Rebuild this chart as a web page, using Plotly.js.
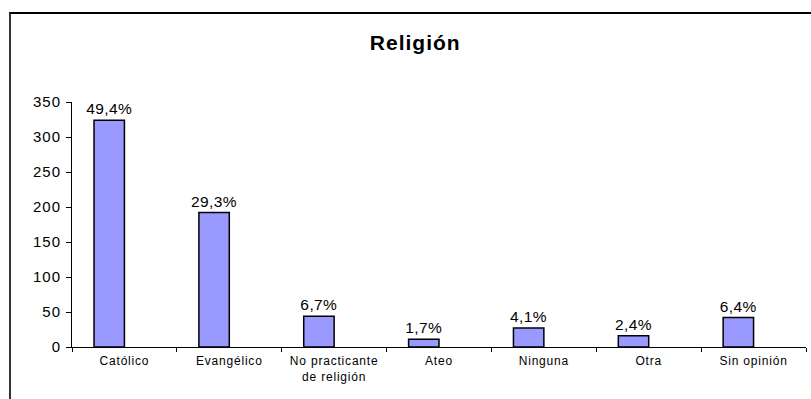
<!DOCTYPE html>
<html>
<head>
<meta charset="utf-8">
<script src="https://cdn.plot.ly/plotly-3.0.1.min.js"></script>
<style>
  html, body { margin: 0; padding: 0; background: #fff; overflow: hidden; }
  #wrap { position: relative; width: 811px; height: 399px; overflow: hidden; }
  #chart { position: absolute; left: 0; top: 0; width: 811px; height: 399px; }
  #frame { position: absolute; left: 9px; top: 12px; width: 900px; height: 500px;
           border-left: 2px solid #333; border-top: 2px solid #000; pointer-events: none; }
  #chart .ytick text { letter-spacing: 1px; }
  #chart .xtick text { letter-spacing: 0.8px; }
  #chart .gtitle { letter-spacing: 1px; }
  #chart .bartext { letter-spacing: 0.4px; }
</style>
</head>
<body>
<div id="wrap">
  <div id="chart"></div>
  <div id="frame"></div>
</div>
<script>
const categories = ["Católico", "Evangélico", "No practicante<br>de religión", "Ateo", "Ninguna", "Otra", "Sin opinión"];
const counts = [324, 192, 44, 11, 27, 16, 42];
const percentLabels = ["49,4%", "29,3%", "6,7%", "1,7%", "4,1%", "2,4%", "6,4%"];
const yTicks = [0, 50, 100, 150, 200, 250, 300, 350];

const FONT = "Liberation Sans, Arial, Helvetica, sans-serif";
const barW = 0.29;

const trace = {
  type: "bar",
  x: categories,
  y: counts,
  text: percentLabels,
  textposition: "outside",
  constraintext: "none",
  cliponaxis: false,
  textfont: { family: FONT, size: 15.5, color: "#000" },
  width: barW,
  offset: -barW,
  marker: { color: "#9999FF", line: { color: "#000", width: 1.5 } },
  hoverinfo: "none"
};

const layout = {
  width: 811,
  height: 399,
  margin: { l: 72, r: 5, t: 102, b: 52 },
  paper_bgcolor: "#fff",
  plot_bgcolor: "#fff",
  showlegend: false,
  font: { family: FONT, color: "#000" },
  title: {
    text: "<b>Religión</b>",
    font: { family: FONT, size: 21, color: "#000" },
    xref: "container", yref: "container",
    x: 0.512, xanchor: "center",
    y: 0.893, yanchor: "middle"
  },
  xaxis: {
    type: "category",
    showline: true, linecolor: "#000", linewidth: 1,
    ticks: "outside", tickson: "boundaries", ticklen: 4, tickcolor: "#000",
    showgrid: false, zeroline: false,
    ticklabelstandoff: 3,
    tickfont: { family: FONT, size: 12, color: "#000" }
  },
  yaxis: {
    range: [0, 350],
    tickvals: yTicks,
    showline: true, linecolor: "#000", linewidth: 1,
    ticks: "outside", ticklen: 5, tickcolor: "#000",
    showgrid: false, zeroline: false,
    ticklabelstandoff: 2,
    tickfont: { family: FONT, size: 15, color: "#000" }
  }
};

Plotly.newPlot("chart", [trace], layout, { displayModeBar: false, staticPlot: true });
</script>
</body>
</html>
